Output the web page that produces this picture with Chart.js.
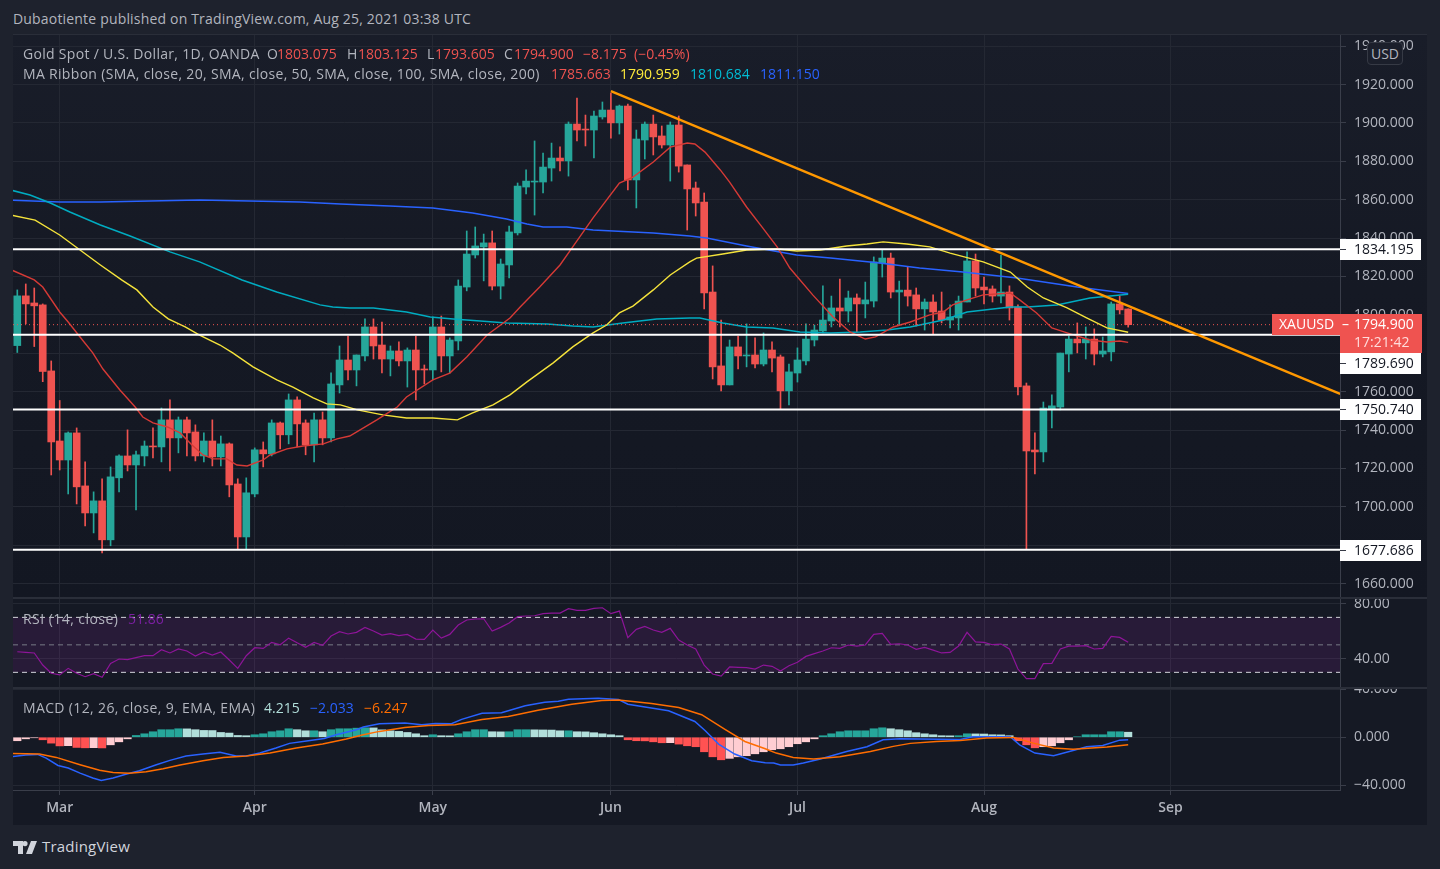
<!DOCTYPE html>
<html>
<head>
<meta charset="utf-8">
<script src="https://cdn.jsdelivr.net/npm/chart.js@4"></script>
<style>
html,body{margin:0;padding:0;background:#1e222d;width:1440px;height:869px;overflow:hidden;font-family:"Open Sans",sans-serif}
#frame{position:absolute;left:13px;top:34px;width:1414px;height:791px;box-sizing:border-box;border:1px solid #2a2e39}
.pane{position:absolute;left:13px;width:1414px;background:#151924}
#mainPane{top:35px;height:563px;background:linear-gradient(#191d29,#151924 45%,#131722)}
#rsiPane{top:598px;height:90px}
#macdPane{top:688px;height:137px}
canvas{position:absolute;left:13px}
#sep1,#sep2{position:absolute;left:13px;width:1414px;height:2px;background:#2a2e39}
#sep1{top:597px}
#sep2{top:687px}
.t{position:absolute;white-space:nowrap;font-size:14px;line-height:18px;color:#b2b5be}
.r{color:#ef5350}
#usd{position:absolute;left:1367px;top:42px;width:34px;height:21px;border:1px solid #363a45;border-radius:4px;background:#1b1f2b;color:#b2b5be;font-size:14px;line-height:21px;text-align:center}
</style>
</head>
<body>
<div id="frame"></div>
<div class="pane" id="mainPane"></div>
<div class="pane" id="rsiPane"></div>
<div class="pane" id="macdPane"></div>
<canvas id="mainChart" width="1414" height="563" style="top:35px"></canvas>
<canvas id="rsiChart" width="1414" height="90" style="top:598px"></canvas>
<canvas id="macdChart" width="1414" height="137" style="top:688px"></canvas>
<div id="sep1"></div><div id="sep2"></div>

<div class="t" style="left:13px;top:10px;letter-spacing:.18px">Dubaotiente published on TradingView.com, Aug 25, 2021 03:38 UTC</div>

<div class="t" style="left:23px;top:45px;letter-spacing:.3px">Gold Spot / U.S. Dollar, 1D, OANDA</div>
<div class="t" style="left:267px;top:45px">O</div><div class="t r" style="left:277px;top:45px">1803.075</div>
<div class="t" style="left:347px;top:45px">H</div><div class="t r" style="left:358px;top:45px">1803.125</div>
<div class="t" style="left:427px;top:45px">L</div><div class="t r" style="left:435px;top:45px">1793.605</div>
<div class="t" style="left:504px;top:45px">C</div><div class="t r" style="left:514px;top:45px">1794.900</div>
<div class="t r" style="left:583px;top:45px">−8.175</div><div class="t r" style="left:634px;top:45px">(−0.45%)</div>

<div class="t" style="left:23px;top:65px;letter-spacing:.32px">MA Ribbon (SMA, close, 20, SMA, close, 50, SMA, close, 100, SMA, close, 200)</div>
<div class="t" style="left:551px;top:65px;color:#ef5350">1785.663</div>
<div class="t" style="left:620px;top:65px;color:#ffeb3b">1790.959</div>
<div class="t" style="left:690px;top:65px;color:#00bcd4">1810.684</div>
<div class="t" style="left:760px;top:65px;color:#2962ff">1811.150</div>
<div id="usd">USD</div>

<div class="t" style="left:23px;top:610px;letter-spacing:.45px">RSI (14, close)</div>
<div class="t" style="left:128px;top:610px;color:#7b1fa2">51.86</div>

<div class="t" style="left:23px;top:699px;letter-spacing:.36px">MACD (12, 26, close, 9, EMA, EMA)</div>
<div class="t" style="left:264px;top:699px;color:#b2dfdb">4.215</div>
<div class="t" style="left:310px;top:699px;color:#2962ff">−2.033</div>
<div class="t" style="left:364px;top:699px;color:#ff6d00">−6.247</div>

<svg style="position:absolute;left:13px;top:841px" width="25" height="13" viewBox="0 0 25 13"><path fill="#d1d4dc" d="M0 0h10v13H5V5H0zM12 0a2.6 2.6 0 1 1-.01 5.2A2.6 2.6 0 0 1 12 0zM18 0h6l-5 13h-6z"/></svg>
<div class="t" style="left:42px;top:837px;font-size:15px;letter-spacing:.2px;color:#d1d4dc">TradingView</div>

<script>
// daily candles, Feb 22 to Aug 25 2021 (index 0 = first candle)
const candleOpen = [
  1784.0,1809.9,1806.2,1805.2,1770.8,1734.3,1724.4,1738.5,1710.9,1696.8,
  1703.1,1682.8,1715.1,1726.5,1721.8,1726.5,1731.7,1731.2,1745.3,1735.9,
  1745.3,1739.0,1726.5,1734.3,1726.0,1732.8,1711.9,1684.3,1706.7,1729.7,
  1727.6,1743.7,1737.5,1755.7,1743.7,1732.3,1745.3,1735.9,1763.5,1776.5,
  1771.3,1778.6,1793.7,1784.3,1777.0,1781.2,1776.0,1781.7,1771.8,1771.3,
  1793.7,1778.6,1786.4,1814.5,1831.2,1835.4,1837.5,1815.0,1826.0,1842.7,
  1866.6,1869.2,1869.2,1876.5,1881.7,1880.2,1899.4,1896.8,1896.3,1903.1,
  1906.7,1900.0,1908.8,1870.3,1891.1,1899.4,1893.2,1888.5,1898.9,1878.1,
  1866.1,1858.8,1811.9,1773.4,1763.5,1783.3,1778.6,1779.1,1774.4,1781.7,
  1778.1,1760.4,1769.7,1776.0,1786.9,1791.6,1796.8,1803.6,1802.0,1808.8,
  1805.7,1807.2,1827.0,1829.6,1811.9,1812.9,1810.4,1803.1,1806.7,1802.0,
  1797.3,1798.4,1806.7,1828.1,1814.5,1813.5,1809.8,1811.9,1804.1,1763.0,
  1729.6,1728.6,1751.0,1752.0,1779.6,1787.4,1785.4,1787.4,1779.6,1780.7,
  1805.7,1803.075];
const candleHigh = [
  1813.0,1816.1,1814.0,1805.7,1776.0,1755.4,1739.0,1741.1,1723.4,1707.8,
  1714.6,1720.8,1727.1,1740.1,1729.1,1734.3,1741.1,1751.5,1755.7,1746.8,
  1746.8,1742.7,1738.5,1745.3,1736.9,1733.3,1714.6,1715.1,1730.7,1733.8,
  1745.3,1744.2,1758.8,1757.3,1745.3,1748.9,1749.4,1769.8,1783.8,1789.0,
  1779.1,1797.9,1797.9,1796.3,1783.8,1785.9,1782.8,1789.0,1773.9,1798.9,
  1799.4,1788.0,1818.2,1843.7,1845.8,1842.1,1843.7,1829.1,1846.3,1868.7,
  1875.5,1890.6,1884.3,1889.5,1887.5,1900.5,1913.0,1904.1,1906.2,1910.9,
  1915.5,1909.3,1909.8,1896.3,1900.5,1904.1,1898.4,1900.5,1903.6,1878.1,
  1869.2,1863.5,1825.5,1797.3,1786.9,1789.0,1795.3,1788.0,1790.6,1785.9,
  1779.1,1774.4,1782.8,1795.3,1794.7,1815.1,1809.8,1818.7,1812.4,1810.9,
  1817.1,1830.2,1833.8,1832.2,1817.6,1824.9,1814.0,1808.3,1810.4,1811.9,
  1805.2,1809.8,1832.8,1831.7,1819.7,1815.1,1831.2,1815.1,1805.2,1764.5,
  1738.5,1754.6,1758.3,1780.1,1789.0,1795.8,1793.7,1792.7,1788.5,1806.7,
  1809.8,1803.125];
const candleLow = [
  1780.4,1795.3,1783.5,1765.2,1716.6,1719.2,1706.7,1701.5,1690.1,1686.4,
  1676.0,1679.7,1707.8,1718.7,1698.4,1721.3,1725.5,1723.4,1718.7,1728.1,
  1726.5,1723.9,1723.4,1721.3,1721.3,1705.2,1678.1,1678.1,1705.2,1720.8,
  1726.5,1730.2,1732.8,1731.2,1727.1,1723.4,1732.3,1733.8,1759.3,1766.1,
  1763.0,1776.0,1777.0,1769.7,1768.2,1773.4,1762.4,1755.7,1764.0,1766.1,
  1770.3,1769.7,1781.7,1812.5,1829.6,1817.7,1813.0,1808.3,1819.2,1841.6,
  1863.0,1852.0,1863.5,1869.7,1875.0,1872.3,1890.6,1888.0,1881.7,1902.0,
  1892.1,1894.2,1865.1,1855.7,1881.2,1883.3,1886.9,1869.7,1874.4,1844.2,
  1851.5,1803.1,1766.6,1760.4,1763.5,1771.8,1772.9,1772.3,1773.4,1770.3,
  1751.0,1753.1,1765.0,1773.9,1783.8,1790.6,1793.7,1793.7,1796.3,1791.1,
  1798.4,1804.1,1819.7,1808.8,1794.7,1804.6,1794.2,1792.1,1790.0,1795.8,
  1793.2,1792.1,1806.7,1809.8,1805.7,1806.7,1806.2,1797.3,1758.3,1678.1,
  1717.1,1723.4,1741.1,1750.5,1770.3,1780.2,1777.0,1773.9,1778.1,1776.0,
  1800.5,1793.605];
const candleClose = [
  1809.9,1805.7,1804.7,1770.5,1733.8,1724.4,1738.5,1710.4,1696.8,1703.1,
  1682.8,1715.6,1726.5,1721.8,1727.1,1731.7,1731.2,1745.3,1735.9,1745.3,
  1738.5,1726.5,1734.3,1726.0,1732.8,1711.4,1684.3,1707.3,1729.7,1727.6,
  1743.7,1737.5,1755.7,1743.2,1732.3,1745.3,1735.9,1764.0,1776.5,1771.3,
  1779.1,1793.7,1783.8,1777.0,1781.2,1776.0,1781.7,1771.3,1771.3,1793.7,
  1778.6,1786.9,1815.0,1831.7,1835.9,1837.5,1815.0,1826.5,1843.2,1867.1,
  1869.7,1869.7,1877.0,1881.7,1880.2,1899.4,1896.3,1896.3,1903.6,1906.7,
  1900.0,1908.8,1870.3,1891.6,1899.4,1892.7,1888.5,1898.9,1877.5,1865.6,
  1858.3,1811.4,1772.9,1763.5,1783.3,1778.6,1779.1,1774.4,1781.7,1777.5,
  1760.4,1770.3,1776.5,1787.4,1792.1,1797.3,1803.6,1802.0,1808.8,1805.7,
  1807.8,1827.6,1829.6,1811.9,1812.9,1809.8,1803.1,1806.7,1801.5,1797.3,
  1798.9,1807.2,1828.1,1814.0,1813.0,1809.8,1811.9,1803.6,1762.5,1729.1,
  1728.6,1751.5,1752.6,1780.1,1787.4,1785.4,1787.4,1779.6,1781.2,1805.7,
  1802.6,1794.9];

// moving averages as [candle index, price]
const ma20 = [[-1,1824],[2,1818.2],[3,1814.5],[5,1801.5],[6,1796.3],[7.4,1788.5],[8.9,1780.2],[10.1,1771.8],[12.1,1760.9],[13.9,1752],[14.8,1746.8],[16,1743.7],[17.7,1741.6],[19.2,1738.5],[20.6,1732.2],[21.9,1727],[23.1,1725],[24.7,1725],[25.9,1721.8],[27.1,1721.3],[29,1724.4],[29.8,1727],[31.8,1730.2],[33.7,1731.7],[36.1,1732.8],[37.7,1735.4],[39.2,1736.9],[42.4,1745.3],[44.8,1752],[45.9,1757.2],[49,1766.1],[51,1769.7],[53,1778.1],[55.4,1789.5],[58.1,1798.4],[59.3,1804.1],[61.6,1814.5],[64,1826],[65.5,1835.4],[67.9,1850.5],[71,1868.7],[72.6,1871.8],[75,1879.6],[77,1887.4],[79,1889.5],[79.9,1889],[81.1,1884.8],[82.9,1875.5],[84,1869.2],[86,1856.2],[87.9,1845.3],[89.6,1835.4],[91.1,1824.4],[93.8,1810.4],[96.2,1798.9],[98.2,1791.1],[100,1787.4],[101.2,1788.5],[103.3,1793.7],[105.3,1796.3],[107.6,1800],[109.2,1801.5],[110.3,1805.2],[112,1807.8],[113.9,1810.4],[117.1,1811.4],[118.2,1807.8],[120.2,1801],[122,1793.2],[123.8,1790.6],[126.5,1786.9],[128.5,1785.9],[130,1786.4],[131,1785.663]];
const ma50 = [[-1,1852.2],[2.1,1849.4],[5,1841.6],[7.4,1833.8],[9.8,1826],[12.3,1818.2],[14.1,1813],[16,1804.1],[17.8,1797.9],[19.8,1793.7],[21.5,1789.5],[23.9,1784.3],[25.4,1780.2],[27.8,1772.9],[30.6,1766.1],[32.5,1762.4],[34.9,1756.7],[36.5,1753.6],[38.1,1753.1],[40.1,1750.5],[43.1,1747.9],[45.9,1746.3],[49,1746.3],[51.9,1745.3],[53.7,1748.9],[56.1,1753.1],[58.1,1758.3],[60.1,1765.1],[63.2,1775],[65.5,1783.3],[67.9,1790.6],[69.5,1794.7],[71,1801],[72.6,1804.6],[75,1813],[77,1820.8],[79.3,1827.6],[80.1,1829.6],[83.2,1831.7],[86,1833.8],[89.6,1834.3],[91.9,1833.3],[94.7,1833.8],[97.8,1835.9],[100.2,1836.9],[102.1,1838],[104.9,1836.9],[107.6,1835.4],[110,1832.2],[113.9,1827.6],[117.1,1822.3],[119.1,1814.5],[121,1808.8],[123.8,1803.6],[126.1,1798.4],[128.5,1793.2],[131,1790.959]];
const ma100 = [[-1,1865.3],[1.5,1862.4],[3.9,1858.3],[6.2,1853.6],[9.8,1846.8],[13.3,1841.1],[18,1832.8],[21.5,1827.6],[26.5,1818.2],[30.6,1811.9],[35.7,1805.2],[37.2,1804.1],[39.2,1803.6],[42,1803.6],[45.9,1801.5],[48.7,1798.9],[51.4,1797.9],[54.6,1796.8],[57.7,1795.8],[62.5,1795.3],[65.5,1794.2],[67.9,1793.7],[71.4,1795.8],[75.4,1797.9],[79.3,1798.4],[80.5,1798.4],[83.2,1795.8],[86,1793.7],[89.1,1793.2],[92.3,1791.1],[95.9,1790.6],[99.4,1791.1],[102.6,1792.1],[105.3,1793.7],[109.2,1797.3],[112,1801.5],[117.1,1804.1],[119.1,1804.1],[122.6,1805.2],[126.5,1808.8],[131,1810.684]];
const ma200 = [[-1,1859.8],[5,1858.8],[9.8,1858.8],[15.6,1859.3],[21.5,1859.8],[27.4,1859.3],[33.3,1858.8],[38.1,1857.8],[43.9,1856.7],[49,1855.7],[53.7,1853.1],[57.7,1849.9],[60.1,1847.3],[62,1845.8],[64.8,1845.8],[67.9,1844.2],[75,1842.7],[79.3,1841.1],[81.3,1840.1],[86,1835.9],[89.9,1832.8],[91.9,1831.2],[95.9,1829.6],[101.7,1827],[106.4,1824.4],[111.5,1822.3],[117.9,1819.2],[125,1814.5],[131,1811.15]];

// drawn levels and trend line
const levels = [1834.195,1789.69,1750.74,1677.686];
const lastPrice = 1794.9;
const trendLine = [[70,1916.6],[156,1758.8]];

const rsiValues = [
  45.0,44.5,44.1,35.3,29.3,28.1,32.9,29.3,26.8,29.0,
  26.4,36.5,39.7,39.2,40.7,42.1,42.1,46.5,44.1,47.0,
  45.5,41.9,44.8,42.6,44.8,39.0,32.9,42.1,47.9,47.4,
  51.8,50.1,54.9,51.6,48.2,51.8,49.6,56.4,59.6,57.9,
  59.1,62.7,60.1,57.1,58.1,56.7,57.6,54.2,54.0,60.8,
  54.9,57.6,64.4,68.1,68.8,69.0,60.1,62.7,65.9,70.5,
  71.0,71.2,72.7,73.1,73.1,76.3,75.1,75.1,76.5,77.0,
  72.7,74.6,55.2,61.3,63.4,60.8,59.1,62.0,53.5,49.9,
  47.0,35.3,28.8,27.3,33.9,33.6,33.4,32.4,35.3,34.4,
  31.0,34.8,37.3,41.6,43.6,45.5,47.9,47.4,49.9,49.1,
  49.9,57.6,58.4,50.4,50.8,49.9,46.7,48.2,46.2,44.1,
  44.5,49.1,59.1,52.1,51.8,50.1,50.6,47.0,32.4,25.4,
  25.4,36.3,36.5,47.0,49.1,49.1,49.4,47.0,47.4,56.2,
  55.4,51.86];
const rsiLevels = [70,50,30];

const macdHist = [
  -2.9,-1.3,-0.4,-2.1,-4.9,-7.2,-7.0,-8.5,-8.8,-8.7,
  -8.9,-6.3,-3.8,-1.3,1.5,2.9,4.6,6.3,6.3,7.1,
  7.0,6.3,5.7,5.6,4.0,3.5,1.5,1.3,2.1,2.9,
  4.6,5.4,7.1,6.3,5.4,5.4,4.6,6.3,7.1,7.1,
  7.6,7.9,7.8,6.2,5.4,4.9,4.0,2.9,1.3,2.1,
  1.3,1.2,2.9,4.6,6.3,6.3,4.6,4.5,4.6,6.3,
  6.3,6.2,6.1,6.0,5.4,5.4,4.6,4.5,3.8,2.9,
  2.1,1.3,-2.1,-2.9,-3.0,-3.8,-4.6,-4.5,-5.7,-7.1,
  -7.9,-12.1,-16.3,-18.8,-17.6,-16.3,-15.4,-13.8,-12.1,-10.4,
  -9.6,-7.9,-5.4,-3.8,-1.3,1.3,2.9,4.6,5.4,5.4,
  5.4,7.1,7.9,7.1,6.3,5.4,3.8,2.9,2.1,1.3,
  1.2,1.3,2.9,2.8,2.7,2.1,2.0,1.3,-2.9,-6.3,
  -8.8,-7.9,-7.1,-4.6,-2.1,0.4,2.1,2.1,2.1,4.6,
  4.6,4.215];
const macdLine = [[-1,-16.4],[1,-14.9],[2.4,-14.3],[3.4,-17.4],[4.8,-23.5],[6,-25.7],[7.4,-29.9],[8.9,-34],[9.9,-36],[11.3,-34],[12.9,-30.7],[14.4,-27.9],[16.4,-22.9],[18,-19.3],[19.9,-15.7],[21.9,-14],[23.9,-12.6],[25.8,-15.7],[27,-15.7],[28.6,-13.2],[30.5,-9],[32.1,-5.1],[34.1,-3.2],[36.2,-1],[37.6,2.1],[40,6.3],[40.8,8.5],[42.7,11.3],[45.7,11.8],[47.7,10.4],[49.3,11.5],[51.2,11.3],[52.4,14.9],[54.8,20.1],[57.1,20.4],[59.9,26.3],[62.2,29.3],[63.8,30.1],[65,31.8],[68.5,32.6],[70.9,31.5],[72,27.6],[74.4,24.9],[76.8,22.1],[79.9,13.2],[81.1,5.7],[82.7,-5.7],[84.6,-14],[86.6,-19.6],[88.2,-21.3],[89.2,-21.5],[90,-23.2],[91.5,-23.2],[92.7,-21.5],[94.7,-18.2],[97.8,-11.8],[100.2,-7.9],[102.1,-2.1],[104.1,-1.25],[111.2,-1.8],[112.7,0.4],[117.1,0.4],[118.2,-6.3],[120,-13.2],[122.2,-15.4],[124.5,-11],[126.1,-7.9],[128,-6.8],[130,-2.4],[131,-2.033]];
const macdSignal = [[-1,-13.5],[2.6,-14],[4.6,-16.8],[7.4,-22.9],[9.7,-27.6],[11.3,-29.3],[13.2,-30.1],[15.2,-28.8],[17.2,-26.3],[19.2,-23.2],[21.9,-19.6],[24.3,-16.8],[27,-15.7],[29.8,-13.2],[32.9,-9],[36,-5.7],[38.8,-1.5],[40.8,2.1],[42.7,4.9],[45.7,8.2],[48.5,9.9],[51.6,10.4],[54.8,14.9],[57.9,17.4],[61.4,22.6],[65.4,27.6],[68.9,30.7],[70.9,31],[74.8,28.2],[78,24.9],[80.7,18.8],[83.5,6.3],[85.8,-3.5],[88.2,-9.6],[89.5,-13.2],[91.5,-16.8],[93.9,-18.2],[97,-16.3],[100.6,-11.8],[103.3,-7.6],[105.3,-5.1],[108.4,-3.5],[111.2,-2.6],[114.3,-0.7],[117.5,-0.1],[119.8,-4.9],[122.2,-9],[124.5,-9.9],[128.5,-8.2],[131,-6.247]];

// axis ticks
const monthTicks = [5,28,49,70,92,114,136];
const monthLabels = ['Mar','Apr','May','Jun','Jul','Aug','Sep'];
const priceTicks = [1940,1920,1900,1880,1860,1840,1820,1800,1780,1760,1740,1720,1700,1680,1660];
const hiddenPriceLabels = [1780,1680]; // sit behind the tags in the original
const rsiTicks = [80,40];
const macdTicks = [40,0,-40];

const xMin = -0.507, xMax = 155.98;
const UP = '#26a69a', DOWN = '#ef5350', GRID = '#242833', AXIS = '#3a3e4a', TEXT = '#b2b5be';
const FONT = 'Open Sans';

const pts = list => list.map(p => ({x: p[0], y: p[1]}));
const span = v => [{x: xMin, y: v}, {x: xMax, y: v}];

function makeScales(yMin, yMax, yTicks, digits, timeAxis) {
  return {
    x: {
      type: 'linear', min: xMin, max: xMax, offset: false,
      afterBuildTicks: s => { s.ticks = monthTicks.map(v => ({value: v})); },
      afterFit: s => { s.height = timeAxis ? 35 : 0; s.paddingLeft = s.paddingRight = 0; },
      grid: {color: GRID, offset: false, drawTicks: timeAxis, tickLength: 5, tickColor: AXIS},
      border: {display: timeAxis, color: AXIS},
      ticks: {
        display: timeAxis, autoSkip: false, maxRotation: 0, padding: 5, color: TEXT,
        font: {family: FONT, size: 14, weight: '600'},
        callback: v => monthLabels[monthTicks.indexOf(v)]
      }
    },
    y: {
      position: 'right', min: yMin, max: yMax,
      afterBuildTicks: s => { s.ticks = yTicks.map(v => ({value: v})); },
      afterFit: s => { s.width = 87; s.paddingTop = s.paddingBottom = 0; },
      grid: {color: GRID, tickLength: 6, tickColor: AXIS},
      border: {color: AXIS},
      ticks: {
        autoSkip: false, padding: 8, color: TEXT,
        font: {family: FONT, size: 14},
        callback: v => hiddenPriceLabels.includes(v) ? '' : v.toFixed(digits).replace('-', '−')
      }
    }
  };
}

function baseOptions(scales) {
  return {
    responsive: false, animation: false, devicePixelRatio: 1,
    layout: {padding: 0},
    events: [],
    plugins: {legend: {display: false}, tooltip: {enabled: false}},
    scales: scales
  };
}

function lineSet(data, color, width, order, extra) {
  return Object.assign({type: 'line', data: data, borderColor: color, borderWidth: width, pointRadius: 0, tension: 0, fill: false, order: order}, extra || {});
}

// right-hand price tags
const priceTags = {
  id: 'priceTags',
  afterDraw(chart) {
    const c = chart.ctx, y = chart.scales.y, L = chart.chartArea.right, W = 81;
    c.save();
    c.font = '14px "' + FONT + '"';
    c.textBaseline = 'middle';
    const last = Math.round(y.getPixelForValue(lastPrice));
    const boxTop = last - 11, boxBottom = last + 28;
    levels.forEach(v => {
      let py = Math.round(y.getPixelForValue(v));
      if (py > boxTop - 10 && py < boxBottom + 10) py = boxBottom + 10;
      c.fillStyle = '#fff';
      c.fillRect(L, py - 10, W, 21);
      c.fillStyle = '#363a45';
      c.fillRect(L, py, 6, 1);
      c.fillStyle = '#131722';
      c.fillText(v.toFixed(3), L + 14, py + 1);
    });
    c.fillStyle = '#ef5350';
    c.fillRect(L - 68, boxTop, 68 + W + 1, 21);
    c.fillRect(L, boxTop + 21, W + 1, 18);
    c.fillStyle = '#fff';
    c.fillText('XAUUSD', L - 61, boxTop + 11);
    c.fillText('–', L + 2, boxTop + 11);
    c.fillText(lastPrice.toFixed(3), L + 14, boxTop + 11);
    c.fillStyle = '#ffdcdc';
    c.fillText('17:21:42', L + 14, boxTop + 29);
    c.restore();
  }
};

const idx = candleOpen.map((_, i) => i);
const candleColors = idx.map(i => candleClose[i] >= candleOpen[i] ? UP : DOWN);

new Chart(document.getElementById('mainChart'), {
  type: 'bar',
  data: {datasets: [
    {data: idx.map(i => ({x: i, y: [candleLow[i], candleHigh[i]]})), backgroundColor: candleColors, barThickness: 1, grouped: false, order: 9},
    {data: idx.map(i => ({x: i, y: [candleOpen[i], candleClose[i]]})), backgroundColor: candleColors, barThickness: 7, grouped: false, order: 8},
    lineSet(pts(ma200), '#2962ff', 1.5, 7),
    lineSet(pts(ma100), '#00acc1', 1.5, 6),
    lineSet(pts(ma50), '#f5e33b', 1.4, 5),
    lineSet(pts(ma20), '#d63a36', 1.4, 4),
    lineSet(span(lastPrice), '#ef5350', 1, 3, {borderDash: [1, 3]}),
    ...levels.map(v => lineSet(span(v), '#ffffff', 2, 2)),
    lineSet(pts(trendLine), '#ff9800', 2.4, 1)
  ]},
  options: baseOptions(makeScales(1652.5, 1945.8, priceTicks, 3, false)),
  plugins: [priceTags]
});

new Chart(document.getElementById('rsiChart'), {
  type: 'line',
  data: {datasets: [
    lineSet(span(rsiLevels[0]), '#d5d6dc', 1, 4, {borderDash: [5, 4], fill: {value: rsiLevels[2]}, backgroundColor: 'rgba(156,39,176,0.15)'}),
    lineSet(span(rsiLevels[1]), '#787b86', 1, 3, {borderDash: [5, 4]}),
    lineSet(span(rsiLevels[2]), '#d5d6dc', 1, 2, {borderDash: [5, 4]}),
    lineSet(idx.map(i => ({x: i, y: rsiValues[i]})), '#8e1599', 1.2, 1)
  ]},
  options: baseOptions(makeScales(18.6, 84.1, rsiTicks, 2, false))
});

// histogram colour depends on the sign and on the step from the bar before
const histColors = macdHist.map((v, i) => {
  const rising = i === 0 || v >= macdHist[i - 1];
  if (v >= 0) return rising ? UP : '#b2dfdb';
  return rising ? '#ffcdd2' : '#ff5252';
});

new Chart(document.getElementById('macdChart'), {
  type: 'bar',
  data: {datasets: [
    {data: idx.map(i => ({x: i, y: macdHist[i]})), backgroundColor: histColors, barThickness: 7.5, grouped: false, order: 3},
    lineSet(pts(macdLine), '#2962ff', 1.5, 2),
    lineSet(pts(macdSignal), '#ff6d00', 1.5, 1)
  ]},
  options: baseOptions(makeScales(-44, 41.1, macdTicks, 3, true))
});
</script>
</body>
</html>
